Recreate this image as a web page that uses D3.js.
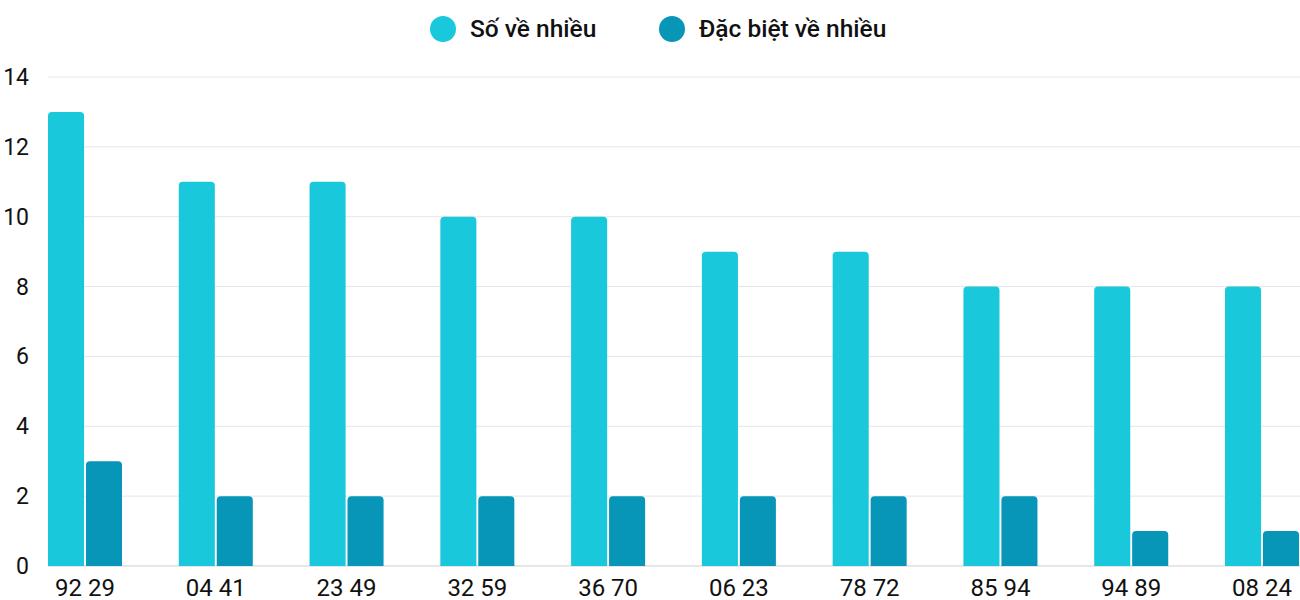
<!DOCTYPE html>
<html><head><meta charset="utf-8">
<script src="https://cdn.jsdelivr.net/npm/d3@7"></script>
<style>body{margin:0;background:#fff}text{font-family:Roboto,sans-serif}</style>
</head><body><svg id="c" width="1300" height="600"></svg>
<script>
const categories=["92 29","04 41","23 49","32 59","36 70","06 23","78 72","85 94","94 89","08 24"];
const seriesNames=["Số về nhiều","Đặc biệt về nhiều"];
const soVe=[13,11,11,10,10,9,9,8,8,8];
const dacBiet=[3,2,2,2,2,2,2,2,1,1];
const yTicks=[0,2,4,6,8,10,12,14];
const colors=["#1ac8db","#0795b8"];
const svg=d3.select("#c");
const x=d3.scaleBand().domain(categories).range([48,1299]).paddingInner(0.434).paddingOuter(0).align(0);
const x1=d3.scaleBand().domain([0,1]).range([0,x.bandwidth()]).paddingInner(0.05);
const y=d3.scaleLinear().domain([0,14]).range([566,77]);
svg.append("g").selectAll("line").data(yTicks).join("line")
 .attr("x1",48).attr("x2",1300).attr("y1",d=>y(d)).attr("y2",d=>y(d))
 .attr("stroke",d=>d===0?"#cfcfcf":"#e6e6e6").attr("stroke-width",1);
svg.append("g").selectAll("text").data(yTicks).join("text")
 .attr("x",29).attr("y",d=>y(d)+8).attr("text-anchor","end").attr("font-size",23).attr("fill","#111").text(d=>d);
const series=[soVe,dacBiet];
function bar(x0,w,yt,yb,r){return `M${x0},${yb}V${yt+r}Q${x0},${yt} ${x0+r},${yt}H${x0+w-r}Q${x0+w},${yt} ${x0+w},${yt+r}V${yb}Z`;}
series.forEach((s,si)=>{
 svg.append("g").selectAll("path").data(categories).join("path")
  .attr("fill",colors[si])
  .attr("d",(c,i)=>bar(x(c)+x1(si),x1.bandwidth(),y(s[i]),y(0),4));
});
svg.append("g").selectAll("text").data(categories).join("text")
 .attr("x",c=>x(c)+x.bandwidth()/2).attr("y",596).attr("text-anchor","middle")
 .attr("font-size",24).attr("fill","#111").text(c=>c);
const lg=svg.append("g");
const lx=[443,672];
seriesNames.forEach((n,i)=>{
 lg.append("circle").attr("cx",lx[i]).attr("cy",29).attr("r",13).attr("fill",colors[i]);
 lg.append("text").attr("x",lx[i]+27).attr("y",37).attr("font-size",24.5).attr("font-weight",500).attr("fill","#111").text(n);
});
</script></body></html>
